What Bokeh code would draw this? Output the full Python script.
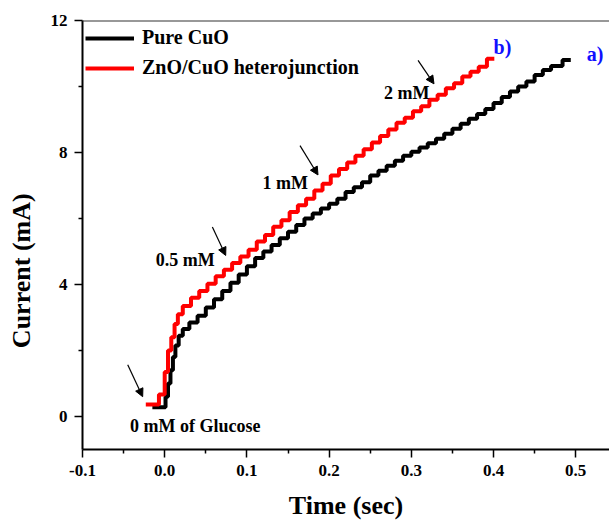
from bokeh.plotting import figure
from bokeh.models import (Range1d, FixedTicker, PrintfTickFormatter, Legend, LegendItem,
                          Label, Arrow, NormalHead, Span)
from bokeh.embed import file_html
from bokeh.resources import INLINE

# ---- data ----
cuo_t = [-0.015, 0.001, 0.004, 0.007, 0.010, 0.013, 0.017, 0.022, 0.030, 0.040, 0.050,
         0.060, 0.070, 0.080, 0.090, 0.100, 0.110, 0.120, 0.130, 0.140, 0.150, 0.160,
         0.170, 0.180, 0.190, 0.200, 0.210, 0.220, 0.230, 0.240, 0.250, 0.260, 0.270,
         0.280, 0.290, 0.300, 0.310, 0.320, 0.330, 0.340, 0.350, 0.360, 0.370, 0.380,
         0.390, 0.400, 0.410, 0.420, 0.430, 0.440, 0.450, 0.460, 0.470, 0.484, 0.494]
cuo_i = [0.28, 0.60, 1.00, 1.40, 1.80, 2.15, 2.45, 2.65, 2.85, 3.05, 3.30,
         3.55, 3.80, 4.05, 4.30, 4.55, 4.80, 5.00, 5.20, 5.40, 5.60, 5.80,
         6.00, 6.15, 6.30, 6.45, 6.60, 6.80, 6.95, 7.10, 7.30, 7.45, 7.60,
         7.75, 7.90, 8.02, 8.15, 8.28, 8.42, 8.57, 8.72, 8.87, 9.02, 9.17,
         9.32, 9.50, 9.68, 9.85, 10.00, 10.15, 10.35, 10.50, 10.62, 10.80, 10.80]

het_t = [-0.023, -0.007, 0.000, 0.004, 0.008, 0.012, 0.016, 0.022, 0.032, 0.042, 0.052,
         0.062, 0.072, 0.082, 0.092, 0.102, 0.112, 0.122, 0.132, 0.142, 0.152, 0.162,
         0.172, 0.182, 0.192, 0.202, 0.212, 0.222, 0.232, 0.242, 0.252, 0.262, 0.272,
         0.282, 0.292, 0.302, 0.312, 0.322, 0.332, 0.342, 0.352, 0.362, 0.372, 0.382,
         0.392, 0.401]
het_i = [0.36, 0.67, 1.35, 2.00, 2.40, 2.80, 3.10, 3.35, 3.60, 3.80, 4.02,
         4.25, 4.45, 4.65, 4.85, 5.05, 5.30, 5.50, 5.75, 5.95, 6.20, 6.40,
         6.60, 6.85, 7.05, 7.30, 7.50, 7.70, 7.90, 8.10, 8.30, 8.50, 8.70,
         8.90, 9.05, 9.25, 9.40, 9.60, 9.75, 9.95, 10.10, 10.30, 10.45, 10.60,
         10.84, 10.84]

x_ticks = [-0.1, 0.0, 0.1, 0.2, 0.3, 0.4, 0.5]
x_minor = [-0.05, 0.05, 0.15, 0.25, 0.35, 0.45]
y_ticks = [0, 4, 8, 12]
y_minor = [2, 6, 10]

series_names = ["Pure CuO", "ZnO/CuO heterojunction"]
series_colors = ["black", "#ff0000"]

# annotations: (text, x, y)
conc_labels = [("0 mM of Glucose", -0.0422, -0.30),
               ("0.5 mM", -0.011, 4.73),
               ("1 mM", 0.1189, 7.08),
               ("2 mM", 0.2668, 9.81)]
arrows = [(-0.045, 1.57, -0.0268, 0.60),
          (0.058, 5.74, 0.0742, 4.88),
          (0.1646, 8.21, 0.1865, 7.32),
          (0.3082, 10.79, 0.3276, 10.08)]
curve_tags = [("a)", 0.5134, 11.0), ("b)", 0.400, 11.21)]

FONT = "Liberation Serif"
NB = "\u00a0"

p = figure(width=609, height=522, output_backend="svg", toolbar_location=None,
           x_range=Range1d(-0.1, 0.5411), y_range=Range1d(-1, 12),
           x_axis_label="Time (sec)", y_axis_label="Current (mA)" + NB * 11,
           min_border_left=82, min_border_right=0, min_border_top=20, min_border_bottom=71)
p.xgrid.visible = False
p.ygrid.visible = False
p.outline_line_color = None
p.background_fill_color = "white"

for ax in (p.xaxis[0], p.yaxis[0]):
    ax.axis_line_width = 2
    ax.axis_line_color = "black"
    ax.major_tick_line_width = 1.5
    ax.minor_tick_line_width = 1.5
    ax.major_tick_in = 0
    ax.major_tick_out = 8
    ax.minor_tick_in = 0
    ax.minor_tick_out = 4
    ax.major_label_text_font = FONT
    ax.major_label_text_font_style = "bold"
    ax.major_label_text_font_size = "17px"
    ax.major_label_text_color = "black"
    ax.major_label_standoff = 7
    ax.axis_label_text_font = FONT
    ax.axis_label_text_font_style = "bold"
    ax.axis_label_text_font_size = "26px"
    ax.axis_label_text_color = "black"

p.xaxis.axis_label_standoff = 12
p.yaxis.axis_label_standoff = 12
p.xaxis.ticker = FixedTicker(ticks=x_ticks, minor_ticks=x_minor)
p.yaxis.ticker = FixedTicker(ticks=y_ticks, minor_ticks=y_minor)
p.xaxis.formatter = PrintfTickFormatter(format="%.1f")

p.add_layout(Span(location=12, dimension="width", line_color="#333333", line_width=2))

r1 = p.step(cuo_t, cuo_i, mode="after", line_color=series_colors[0], line_width=4)
r2 = p.step(het_t, het_i, mode="after", line_color=series_colors[1], line_width=4)

legend = Legend(items=[LegendItem(label=series_names[0], renderers=[r1]),
                       LegendItem(label=series_names[1], renderers=[r2])],
                location=(3, 370), margin=0, padding=5, spacing=7,
                glyph_width=49, glyph_height=20, label_height=20, label_standoff=8,
                border_line_color=None, background_fill_alpha=0,
                label_text_font=FONT, label_text_font_style="bold",
                label_text_font_size="20px", label_text_color="black")
p.add_layout(legend)

for t, x, y in conc_labels:
    p.add_layout(Label(x=x, y=y, text=t, text_font=FONT, text_font_style="bold",
                       text_font_size="18px", text_color="black",
                       text_align="left", text_baseline="middle"))
for t, x, y in curve_tags:
    p.add_layout(Label(x=x, y=y, text=t, text_font=FONT, text_font_style="bold",
                       text_font_size="20px", text_color="#1010ff",
                       text_align="left", text_baseline="middle"))
for xs, ys, xe, ye in arrows:
    p.add_layout(Arrow(end=NormalHead(size=8, fill_color="black", line_color="black"),
                       x_start=xs, y_start=ys, x_end=xe, y_end=ye,
                       line_color="black", line_width=1.2))

open("out.html", "w").write(file_html(p, INLINE))
